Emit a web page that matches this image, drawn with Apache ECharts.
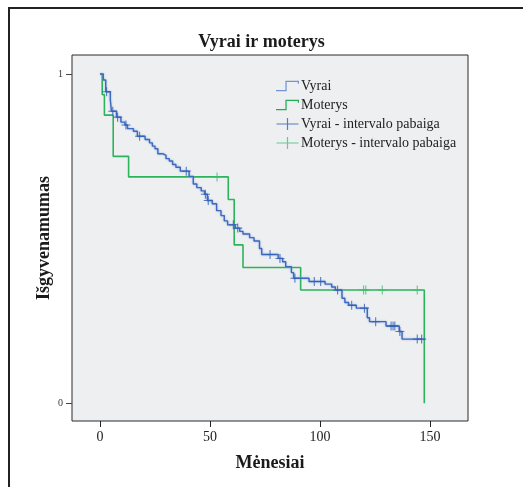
<!DOCTYPE html>
<html>
<head>
<meta charset="utf-8">
<script src="https://cdn.jsdelivr.net/npm/echarts@6/dist/echarts.min.js"></script>
<style>
html,body{margin:0;padding:0;background:#fff;}
#c{width:523px;height:487px;}
</style>
</head>
<body>
<div id="c"></div>
<script>
// ---- data ----
const titleText = 'Vyrai ir moterys';
const xName = 'Mėnesiai';
const yName = 'Išgyvenamumas';
const xTicks = [0, 50, 100, 150];
const yTicks = [0, 1];
const seriesNames = ['Vyrai', 'Moterys', 'Vyrai - intervalo pabaiga', 'Moterys - intervalo pabaiga'];

// Vyrai: step points [time, survival after step]
const vyraiSteps = [
  [0,1],[1.5,0.982],[2.6,0.946],[4.7,0.921],[5.2,0.887],[7.5,0.869],[9.5,0.854],
  [11.3,0.845],[12.5,0.834],[15.2,0.826],[17,0.811],[20.5,0.801],[22.5,0.791],
  [23.8,0.781],[25,0.773],[26.3,0.758],[28.5,0.753],[30,0.743],[31.5,0.736],
  [33,0.725],[34.5,0.717],[36.5,0.705],[40.5,0.689],[42.4,0.666],[44,0.655],
  [46,0.645],[47.5,0.635],[48.8,0.616],[51,0.606],[53,0.585],[55,0.57],
  [56.5,0.554],[58,0.542],[61.5,0.532],[63.5,0.522],[65,0.514],[68,0.503],
  [70,0.493],[72.5,0.47],[73.5,0.452],[81,0.44],[83,0.43],[84.4,0.415],
  [87,0.397],[88,0.38],[95,0.37],[102.3,0.362],[105.3,0.353],[107,0.344],
  [110,0.319],[111.3,0.306],[113,0.298],[116.5,0.289],[121.5,0.26],[122.5,0.248],
  [130,0.235],[136,0.218],[137.3,0.195],[147.7,0.195]
];
// Vyrai censored observations [time, survival]
const vyraiCensored = [
  [3,0.946],[5.8,0.887],[8,0.869],[11.8,0.845],[18,0.811],[39.2,0.705],
  [47.9,0.635],[49.2,0.616],[60.6,0.542],[62.6,0.532],[77.3,0.452],[81.8,0.44],
  [88.6,0.38],[97.4,0.37],[100.3,0.37],[108,0.344],[114.4,0.298],[120.2,0.289],
  [125.3,0.248],[132.3,0.235],[133.2,0.235],[134,0.235],[136.3,0.218],
  [144.2,0.195],[146.2,0.195]
];
// Moterys: step points
const moterysSteps = [
  [0,1],[1,0.9375],[2,0.875],[6,0.75],[13,0.6875],[58.3,0.619],[61,0.481],
  [65,0.4125],[91.2,0.344],[147.4,0]
];
// Moterys censored observations
const moterysCensored = [
  [53.2,0.6875],[119.8,0.344],[120.8,0.344],[128.3,0.344],[144.2,0.344]
];

// ---- chart ----
const serif = '"Liberation Serif","Times New Roman",serif';
const plus = 'path://M0,4.4 L10,4.4 L10,5.6 L0,5.6 Z M4.4,0 L5.6,0 L5.6,10 L4.4,10 Z';
const stepIcon = 'path://M0,9 L9,9 L9,0 L22,0 L22,3 L20.8,3 L20.8,1.2 L10.2,1.2 L10.2,10.2 L0,10.2 Z';
const crossIcon = 'path://M0,5.4 L22,5.4 L22,6.6 L0,6.6 Z M10.4,0 L11.6,0 L11.6,12 L10.4,12 Z';

const blueLine = '#3f69bd';
const blueMark = '#2f5fb3';
const greenLine = '#2cb35c';
const greenMark = '#3cbd6c';

const chart = echarts.init(document.getElementById('c'), null, {renderer: 'canvas'});
chart.setOption({
  animation: false,
  backgroundColor: '#ffffff',
  title: {
    text: titleText, left: 'center', top: 28,
    textStyle: {fontFamily: serif, fontWeight: 'bold', fontSize: 18, color: '#1a1a1a'}
  },
  graphic: [{
    type: 'rect', shape: {x: 9, y: 8, width: 700, height: 700}, silent: true,
    style: {fill: 'none', stroke: '#222', lineWidth: 2}
  }],
  grid: {
    left: 72, top: 55, right: 55, bottom: 66,
    show: true, backgroundColor: '#eeeff1', borderColor: '#2a2a2a', borderWidth: 1
  },
  legend: {
    orient: 'vertical', left: 271, top: 74, itemGap: 5,
    itemWidth: 23, itemHeight: 12,
    textStyle: {fontFamily: serif, fontSize: 14, color: '#222', padding: [0,0,0,-3]},
    data: [
      {name: seriesNames[0], icon: stepIcon, itemStyle: {color: '#6f95d4'}},
      {name: seriesNames[1], icon: stepIcon, itemStyle: {color: '#22ad55'}},
      {name: seriesNames[2], icon: crossIcon, itemStyle: {color: '#2f5fb3'}},
      {name: seriesNames[3], icon: crossIcon, itemStyle: {color: '#45c075'}}
    ]
  },
  xAxis: {
    type: 'value', min: -12.727, max: 167.27, position: 'bottom',
    name: xName, nameLocation: 'middle', nameGap: 33,
    nameTextStyle: {fontFamily: serif, fontWeight: 'bold', fontSize: 18, color: '#1a1a1a'},
    axisLine: {show: false, onZero: false},
    splitLine: {show: false},
    axisTick: {show: true, customValues: xTicks, length: 6, lineStyle: {color: '#222'}},
    axisLabel: {customValues: xTicks, fontFamily: serif, fontSize: 14, color: '#222', margin: 9}
  },
  yAxis: {
    type: 'value', min: -0.0537, max: 1.0577, position: 'left',
    name: yName, nameLocation: 'middle', nameGap: 19, nameRotate: 90, nameMoveOverlap: false,
    nameTextStyle: {fontFamily: serif, fontWeight: 'bold', fontSize: 18, color: '#1a1a1a'},
    axisLine: {show: false, onZero: false},
    splitLine: {show: false},
    axisTick: {show: true, customValues: yTicks, length: 6, lineStyle: {color: '#444'}},
    axisLabel: {customValues: yTicks, fontFamily: serif, fontSize: 10, color: '#333', margin: 9}
  },
  series: [
    {
      name: seriesNames[0], type: 'line', step: 'end', data: vyraiSteps,
      showSymbol: false, symbol: 'none', z: 3,
      lineStyle: {color: blueLine, width: 1.4, shadowColor: 'rgba(130,165,225,0.9)', shadowBlur: 2},
      itemStyle: {color: '#6f95d4'}
    },
    {
      name: seriesNames[1], type: 'line', step: 'end', data: moterysSteps,
      showSymbol: false, symbol: 'none', z: 2,
      lineStyle: {color: greenLine, width: 1.6}, itemStyle: {color: '#22ad55'}
    },
    {
      name: seriesNames[2], type: 'scatter', data: vyraiCensored,
      symbol: plus, symbolSize: 9, z: 4,
      itemStyle: {color: blueMark}
    },
    {
      name: seriesNames[3], type: 'scatter', data: moterysCensored,
      symbol: plus, symbolSize: 9, z: 4,
      itemStyle: {color: greenMark}
    }
  ]
});
</script>
</body>
</html>
